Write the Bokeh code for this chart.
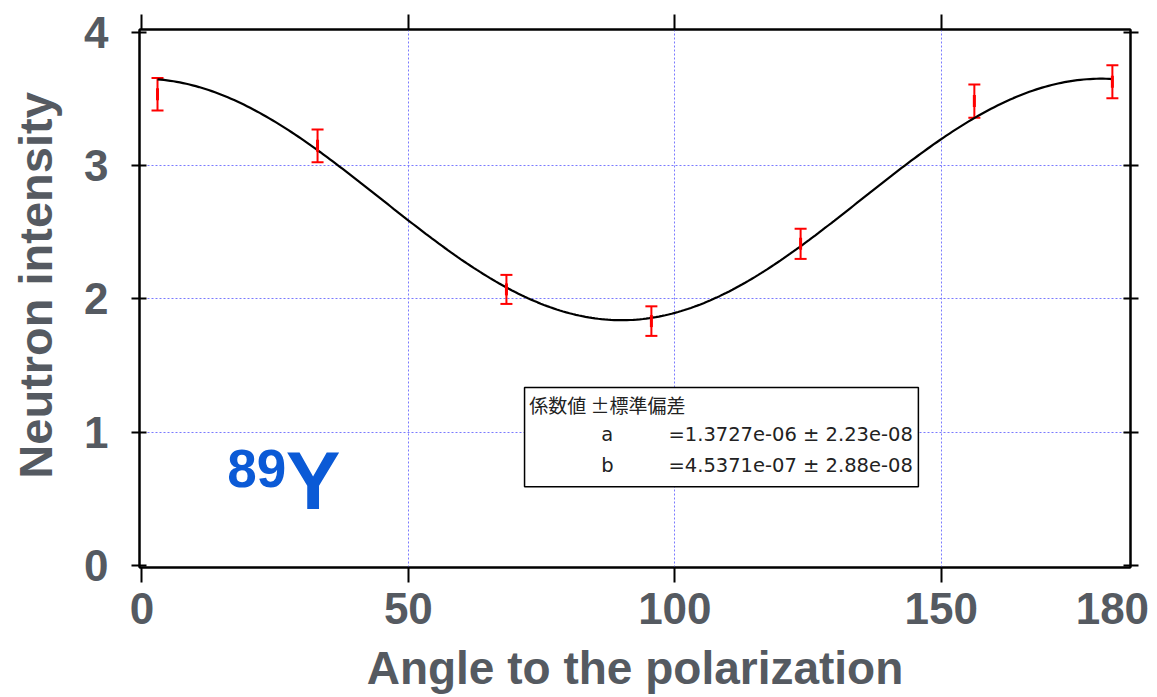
import numpy as np
from bokeh.plotting import figure
from bokeh.models import (FixedTicker, LinearAxis, Whisker, TeeHead, ColumnDataSource,
                          Label, BoxAnnotation, Range1d)
from bokeh.embed import file_html
from bokeh.resources import INLINE

# ---- data ----
ANGLE = [2.93, 32.96, 68.4, 95.6, 123.6, 156.2, 182.1]
INTENSITY = [3.536, 3.149, 2.071, 1.833, 2.413, 3.485, 3.631]
ERROR = [0.122, 0.123, 0.109, 0.111, 0.113, 0.125, 0.124]

# fitted curve y = base + amp * cos^2(angle)
FIT_BASE = 1.84
FIT_AMP = 1.813

X_TICKS = [0, 50, 100, 150]
Y_TICKS = [0, 1, 2, 3, 4]
X_GRID = [50, 100, 150]
Y_GRID = [1, 2, 3]
END_TICK_LABEL = "180"          # label printed under the last measured angle

FIT_HEADER = "係数値 ±標準偏差"
FIT_NAMES = ["a", "b"]
FIT_VALUES = ["=1.3727e-06 ± 2.23e-08", "=4.5371e-07 ± 2.88e-08"]

X_TITLE = "Angle to the polarization"
Y_TITLE = "Neutron intensity"
MASS_NUMBER = "89"
ELEMENT = "Y"

GREY = "#555a61"
FONT = "Liberation Sans"

p = figure(width=1157, height=697,
           x_range=Range1d(-0.45, 185.5), y_range=Range1d(-0.017, 4.0225),
           output_backend="svg", toolbar_location=None,
           min_border_left=139, min_border_right=27,
           min_border_top=29, min_border_bottom=130)
p.background_fill_color = "white"
p.border_fill_color = "white"
p.outline_line_color = "black"
p.outline_line_width = 2

# grid
p.xgrid.ticker = FixedTicker(ticks=X_GRID)
p.ygrid.ticker = FixedTicker(ticks=Y_GRID)
for g in (p.xgrid, p.ygrid):
    g.grid_line_color = "#7a7aff"
    g.grid_line_dash = "2 2"
    g.grid_line_width = 1

# bottom axis: labels on major ticks (no marks), marks drawn as minor ticks
end_pos = ANGLE[-1]
xa = p.xaxis[0]
xa.ticker = FixedTicker(ticks=X_TICKS + [end_pos], minor_ticks=X_TICKS)
xa.major_label_overrides = {end_pos: END_TICK_LABEL}
xa.major_tick_line_color = None
xa.major_tick_out = 15
xa.major_tick_in = 0
xa.minor_tick_out = 15
xa.minor_tick_in = 0
xa.minor_tick_line_width = 2
xa.minor_tick_line_color = "black"
xa.axis_line_width = 2
xa.major_label_text_font = FONT
xa.major_label_text_font_size = "44px"
xa.major_label_text_font_style = "bold"
xa.major_label_text_color = GREY
xa.major_label_standoff = 10
xa.axis_label = X_TITLE
xa.axis_label_text_font = FONT
xa.axis_label_text_font_size = "46px"
xa.axis_label_text_font_style = "bold"
xa.axis_label_text_color = GREY
xa.axis_label_standoff = 15

# left axis
ya = p.yaxis[0]
ya.ticker = FixedTicker(ticks=Y_TICKS)
ya.major_tick_out = 8
ya.major_tick_in = 7
ya.major_tick_line_width = 2
ya.minor_tick_line_color = None
ya.axis_line_width = 2
ya.major_label_text_font = FONT
ya.major_label_text_font_size = "44px"
ya.major_label_text_font_style = "bold"
ya.major_label_text_color = GREY
ya.major_label_standoff = 23
ya.axis_label = "\u00a0\u00a0" + Y_TITLE
ya.axis_label_text_font = FONT
ya.axis_label_text_font_size = "47px"
ya.axis_label_text_font_style = "bold"
ya.axis_label_text_color = GREY
ya.axis_label_standoff = 19

# top axis (tick marks only, drawn as minor ticks so no labels exist)
top = LinearAxis(ticker=FixedTicker(ticks=[], minor_ticks=X_TICKS),
                 minor_tick_out=15, minor_tick_in=0, minor_tick_line_width=2,
                 minor_tick_line_color="black", major_tick_line_color=None,
                 axis_line_width=2)
p.add_layout(top, "above")

# right axis (tick marks only)
right = LinearAxis(ticker=FixedTicker(ticks=[], minor_ticks=Y_TICKS),
                   minor_tick_out=8, minor_tick_in=7, minor_tick_line_width=2,
                   minor_tick_line_color="black", major_tick_line_color=None,
                   axis_line_width=2)
p.add_layout(right, "right")

# fitted curve
xs = np.linspace(ANGLE[0], ANGLE[-1], 300)
ys = FIT_BASE + FIT_AMP * np.cos(np.radians(xs)) ** 2
p.line(xs, ys, line_color="black", line_width=2.2)

# error bars
src = ColumnDataSource(dict(
    x=ANGLE, y=INTENSITY,
    upper=[v + e for v, e in zip(INTENSITY, ERROR)],
    lower=[v - e for v, e in zip(INTENSITY, ERROR)],
))
wh = Whisker(source=src, base="x", upper="upper", lower="lower", dimension="height",
             line_color="red", line_width=2,
             upper_head=TeeHead(size=12, line_color="red", line_width=2),
             lower_head=TeeHead(size=12, line_color="red", line_width=2))
p.add_layout(wh)
p.scatter("x", "y", source=src, marker="dash", angle=np.pi / 2, size=12,
          line_color="red", line_width=3)

# fit-result box
p.add_layout(BoxAnnotation(left=71.8, right=145.7, top=1.334, bottom=0.59,
                           fill_color="white", fill_alpha=1.0,
                           line_color="black", line_width=1.5, line_alpha=1.0))
p.add_layout(Label(x=72.7, y=1.205, text=FIT_HEADER, text_font="Noto Sans CJK JP",
                   text_font_size="19px", text_color="#222222", text_baseline="alphabetic"))
for name, val, yy in zip(FIT_NAMES, FIT_VALUES, [0.98, 0.752]):
    p.add_layout(Label(x=86.2, y=yy, text=name, text_font="DejaVu Sans",
                       text_font_size="19.5px", text_color="#222222", text_baseline="alphabetic"))
    p.add_layout(Label(x=98.8, y=yy, text=val, text_font="DejaVu Sans",
                       text_font_size="19.5px", text_color="#222222", text_baseline="alphabetic"))

# nuclide label
p.add_layout(Label(x=16.0, y=0.725, text=MASS_NUMBER, text_font=FONT, text_font_size="53px",
                   text_font_style="bold", text_color="#0b5ad6", text_baseline="alphabetic"))
p.add_layout(Label(x=27.0, y=0.635, text=ELEMENT, text_font=FONT, text_font_size="82px",
                   text_font_style="bold", text_color="#0b5ad6", text_baseline="alphabetic"))

open("out.html", "w").write(file_html(p, INLINE))
